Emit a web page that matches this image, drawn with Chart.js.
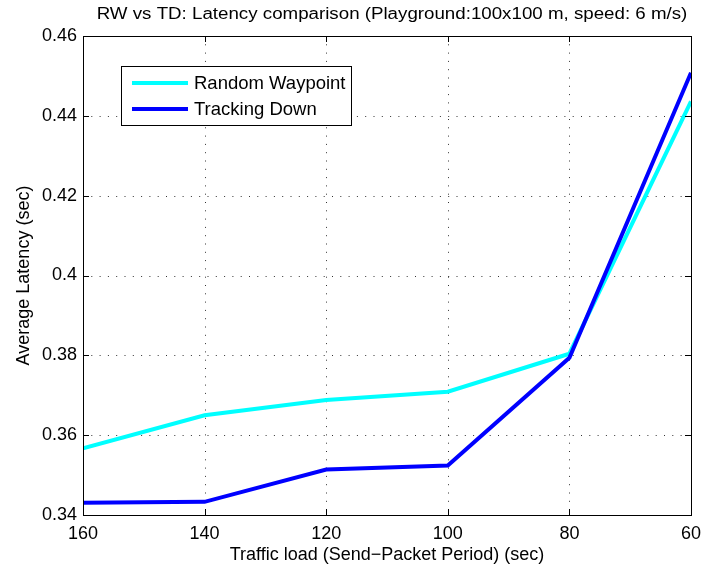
<!DOCTYPE html>
<html><head><meta charset="utf-8">
<script src="https://cdn.jsdelivr.net/npm/chart.js@4/dist/chart.umd.min.js"></script>
<style>html,body{margin:0;padding:0;background:#fff}</style>
</head><body>
<canvas id="c" width="704" height="569" style="display:block"></canvas>
<script>
const chartTitle = 'RW vs TD: Latency comparison (Playground:100x100 m, speed: 6 m/s)';
const xTitle = 'Traffic load (Send\u2212Packet Period) (sec)';
const yTitle = 'Average Latency (sec)';
const periods = [160, 140, 120, 100, 80, 60];
const randomWaypoint = [0.3567, 0.3650, 0.3688, 0.3709, 0.3804, 0.4436];
const trackingDown = [0.3431, 0.3433, 0.3514, 0.3524, 0.3794, 0.4508];
const seriesNames = ['Random Waypoint', 'Tracking Down'];
const seriesColors = ['#00ffff', '#0000ff'];
const xTickValues = [160, 140, 120, 100, 80, 60];
const yTickValues = [0.34, 0.36, 0.38, 0.40, 0.42, 0.44, 0.46];
const yTickLabels = ['0.34', '0.36', '0.38', '0.4', '0.42', '0.44', '0.46'];

const FONT = '"Liberation Sans", Arial, Helvetica, sans-serif';
Chart.defaults.font.family = FONT;
Chart.defaults.color = '#000';

const grid = {
  id: 'dottedGrid',
  beforeDatasetsDraw(chart) {
    const {ctx, chartArea: a, scales: {x, y}} = chart;
    ctx.save();
    ctx.strokeStyle = 'rgba(0,0,0,0.8)';
    ctx.lineWidth = 1;
    ctx.setLineDash([1, 7.3]);
    ctx.beginPath();
    x.ticks.forEach(t => {
      const px = Math.round(x.getPixelForValue(t.value)) + 0.5;
      ctx.moveTo(px, a.top); ctx.lineTo(px, a.bottom);
    });
    y.ticks.forEach(t => {
      const py = Math.round(y.getPixelForValue(t.value)) + 0.5;
      ctx.moveTo(a.left, py); ctx.lineTo(a.right, py);
    });
    ctx.stroke();
    ctx.restore();
  }
};

const frame = {
  id: 'frame',
  afterDraw(chart) {
    const {ctx, chartArea: a, scales: {x, y}} = chart;
    ctx.save();
    ctx.strokeStyle = '#000';
    ctx.lineWidth = 1;
    ctx.strokeRect(Math.round(a.left) + 0.5, Math.round(a.top) + 0.5, Math.round(a.right - a.left), Math.round(a.bottom - a.top));
    const tl = 6;
    ctx.beginPath();
    x.ticks.forEach(t => {
      const px = Math.round(x.getPixelForValue(t.value)) + 0.5;
      ctx.moveTo(px, a.bottom); ctx.lineTo(px, a.bottom - tl);
      ctx.moveTo(px, a.top); ctx.lineTo(px, a.top + tl);
    });
    y.ticks.forEach(t => {
      const py = Math.round(y.getPixelForValue(t.value)) + 0.5;
      ctx.moveTo(a.left, py); ctx.lineTo(a.left + tl, py);
      ctx.moveTo(a.right, py); ctx.lineTo(a.right - tl, py);
    });
    ctx.stroke();
    // title (slightly widened like the original renderer)
    ctx.fillStyle = '#000';
    ctx.font = '16px ' + FONT;
    ctx.textAlign = 'center';
    ctx.textBaseline = 'middle';
    ctx.save();
    ctx.translate((a.left + a.right) / 2 + 5, 15);
    ctx.scale(1.17, 1);
    ctx.fillText(chartTitle, 0, 0);
    ctx.restore();
    // legend
    const lx = 121, ly = 66, lw = 230, lh = 59;
    ctx.fillStyle = '#fff';
    ctx.fillRect(lx, ly, lw, lh);
    ctx.strokeStyle = '#000';
    ctx.lineWidth = 1;
    ctx.strokeRect(lx + 0.5, ly + 0.5, lw, lh);
    ctx.font = '18.5px ' + FONT;
    ctx.textAlign = 'left';
    chart.data.datasets.forEach((ds, i) => {
      const yy = ly + 17 + i * 26;
      ctx.strokeStyle = ds.borderColor;
      ctx.lineWidth = 4;
      ctx.beginPath(); ctx.moveTo(lx + 11, yy); ctx.lineTo(lx + 67, yy); ctx.stroke();
      ctx.fillStyle = '#000';
      ctx.fillText(ds.label, lx + 73, yy + 1);
    });
    ctx.restore();
  }
};

const datasets = [randomWaypoint, trackingDown].map((vals, i) => ({
  label: seriesNames[i],
  data: periods.map((p, j) => ({x: p, y: vals[j]})),
  borderColor: seriesColors[i],
  backgroundColor: seriesColors[i],
  borderWidth: 4,
  pointRadius: 0,
  tension: 0,
  fill: false,
  order: 1 - i,
  borderJoinStyle: 'miter'
}));

new Chart(document.getElementById('c'), {
  type: 'line',
  data: {datasets},
  plugins: [grid, frame],
  options: {
    responsive: false,
    animation: false,
    devicePixelRatio: 1,
    layout: {padding: {left: 0, right: 13, top: 36, bottom: 0}},
    plugins: {legend: {display: false}, title: {display: false}, tooltip: {enabled: false}},
    scales: {
      x: {
        type: 'linear', reverse: true, min: 60, max: 160,
        afterBuildTicks: s => { s.ticks = xTickValues.map(v => ({value: v})); },
        afterFit: s => { s.height = 54; s.paddingLeft = 0; s.paddingRight = 0; },
        ticks: {font: {size: 18}, padding: 8, maxRotation: 0, callback: v => String(v)},
        grid: {display: false, drawTicks: false},
        border: {display: false},
        title: {display: true, text: xTitle, font: {size: 18}, padding: {top: 0, bottom: 3}}
      },
      y: {
        type: 'linear', min: 0.34, max: 0.46,
        afterBuildTicks: s => { s.ticks = yTickValues.map(v => ({value: v})); },
        afterFit: s => { s.width = 83; s.paddingTop = 0; s.paddingBottom = 0; },
        ticks: {font: {size: 18}, padding: 6, callback: (v, i) => yTickLabels[i]},
        grid: {display: false, drawTicks: false},
        border: {display: false},
        title: {display: true, text: yTitle, font: {size: 18}, padding: {top: 13, bottom: 0}}
      }
    }
  }
});
</script>
</body></html>
